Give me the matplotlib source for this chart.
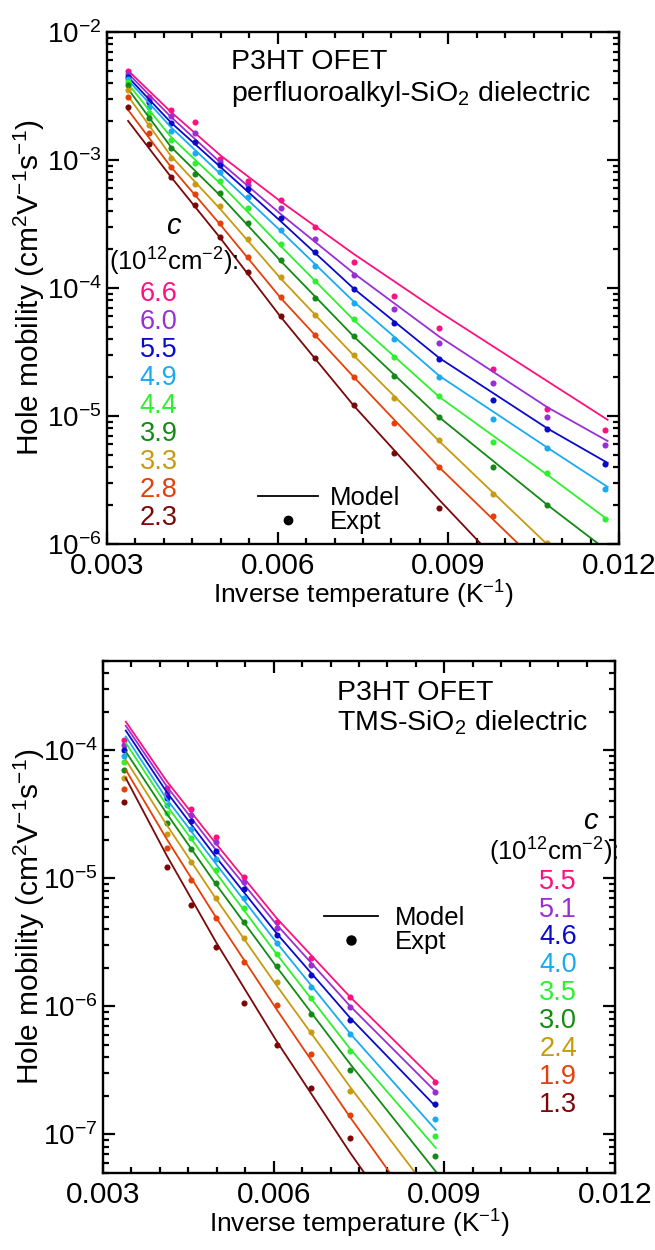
import matplotlib
matplotlib.use("Agg")
import matplotlib.pyplot as plt
from matplotlib.lines import Line2D
from matplotlib.ticker import MultipleLocator, LogLocator, NullFormatter, FixedLocator

plt.rcParams['font.family'] = ['Liberation Sans', 'DejaVu Sans']
plt.rcParams['mathtext.fontset'] = 'custom'
plt.rcParams['mathtext.rm'] = 'Liberation Sans'
plt.rcParams['mathtext.it'] = 'Liberation Sans:italic'
plt.rcParams['mathtext.default'] = 'regular'

colors = ['#FF0F80', '#9A2ED6', '#0A0ACD', '#1AAAF0', '#2EF02E',
          '#138A13', '#C89A10', '#E5400A', '#7A0808']

nan = float('nan')

# ---------------- top panel: perfluoroalkyl-SiO2 ----------------
top_conc = ['6.6', '6.0', '5.5', '4.9', '4.4', '3.9', '3.3', '2.8', '2.3']
top_x = [0.00337, 0.00373, 0.00412, 0.00454, 0.00499, 0.00548, 0.00605,
         0.00666, 0.00734, 0.00804, 0.00884, 0.00979, 0.01074, 0.01175]
top_66 = [4.95e-3, 3.13e-3, 2.46e-3, 1.97e-3, 1.01e-3, 6.85e-4, 4.84e-4, 2.98e-4, 1.59e-4, 8.71e-5, 4.84e-5, 2.33e-5, 1.13e-5, 7.78e-6]
top_60 = [4.70e-3, 2.94e-3, 2.22e-3, 1.62e-3, 9.64e-4, 6.38e-4, 4.23e-4, 2.40e-4, 1.26e-4, 6.85e-5, 3.70e-5, 1.80e-5, 9.89e-6, 5.93e-6]
top_55 = [4.48e-3, 2.82e-3, 1.94e-3, 1.37e-3, 9.14e-4, 5.90e-4, 3.51e-4, 1.90e-4, 9.91e-5, 5.30e-5, 2.77e-5, 1.33e-5, 7.87e-6, 4.22e-6]
top_49 = [4.26e-3, 2.61e-3, 1.69e-3, 1.13e-3, 8.13e-4, 5.12e-4, 2.84e-4, 1.49e-4, 7.64e-5, 3.97e-5, 2.02e-5, 9.42e-6, 5.60e-6, 2.70e-6]
top_44 = [4.07e-3, 2.34e-3, 1.43e-3, 9.42e-4, 6.85e-4, 4.20e-4, 2.22e-4, 1.14e-4, 5.74e-5, 2.90e-5, 1.44e-5, 6.30e-6, 3.56e-6, 1.56e-6]
top_39 = [3.85e-3, 2.12e-3, 1.23e-3, 7.78e-4, 5.56e-4, 3.24e-4, 1.66e-4, 8.40e-5, 4.22e-5, 2.05e-5, 9.89e-6, 4.02e-6, 2.02e-6, nan]
top_33 = [3.52e-3, 1.88e-3, 1.04e-3, 6.46e-4, 4.35e-4, 2.40e-4, 1.21e-4, 6.15e-5, 3.00e-5, 1.37e-5, 6.49e-6, 2.46e-6, 1.01e-6, nan]
top_28 = [3.09e-3, 1.62e-3, 8.87e-4, 5.42e-4, 3.24e-4, 1.74e-4, 8.47e-5, 4.29e-5, 2.03e-5, 8.76e-6, 3.97e-6, 1.64e-6, nan, nan]
top_23 = [2.58e-3, 1.33e-3, 7.36e-4, 4.45e-4, 2.50e-4, 1.34e-4, 6.04e-5, 2.85e-5, 1.21e-5, 5.11e-6, 1.90e-6, nan, nan, nan]

top_model_x = [0.00337, 0.00412, 0.00499, 0.00605, 0.00734, 0.00884, 0.01074, 0.0118]
top_model_66 = [5.00e-3, 2.38e-3, 1.09e-3, 4.75e-4, 1.84e-4, 6.52e-5, 1.87e-5, 9.33e-6]
top_model_60 = [4.74e-3, 2.18e-3, 9.59e-4, 3.79e-4, 1.30e-4, 4.17e-5, 1.17e-5, 6.37e-6]
top_model_55 = [4.45e-3, 1.97e-3, 8.85e-4, 3.33e-4, 9.86e-5, 2.84e-5, 8.00e-6, 4.30e-6]
top_model_49 = [4.22e-3, 1.81e-3, 7.80e-4, 2.80e-4, 7.80e-5, 2.06e-5, 5.66e-6, 2.79e-6]
top_model_44 = [3.93e-3, 1.52e-3, 6.55e-4, 2.13e-4, 5.60e-5, 1.41e-5, 3.47e-6, 1.55e-6]
top_model_39 = [3.59e-3, 1.27e-3, 5.27e-4, 1.63e-4, 4.17e-5, 9.77e-6, 2.02e-6, 8.83e-7]
top_model_33 = [3.16e-3, 1.08e-3, 4.14e-4, 1.19e-4, 2.96e-5, 6.35e-6, 9.91e-7, 3.73e-7]
top_model_28 = [2.46e-3, 8.87e-4, 3.13e-4, 8.38e-5, 2.01e-5, 3.97e-6, 6.05e-7, 2.22e-7]
top_model_23 = [2.02e-3, 7.41e-4, 2.46e-4, 5.97e-5, 1.20e-5, 2.21e-6, 2.83e-7, 9.44e-8]

top_pts = [top_66, top_60, top_55, top_49, top_44, top_39, top_33, top_28, top_23]
top_model = [top_model_66, top_model_60, top_model_55, top_model_49, top_model_44,
             top_model_39, top_model_33, top_model_28, top_model_23]

# ---------------- bottom panel: TMS-SiO2 ----------------
bot_conc = ['5.5', '5.1', '4.6', '4.0', '3.5', '3.0', '2.4', '1.9', '1.3']
bot_x = [0.00337, 0.00412, 0.00454, 0.00499, 0.00547, 0.00605, 0.00665, 0.00734, 0.00884]
bot_55 = [1.20e-4, 5.07e-5, 3.48e-5, 2.12e-5, 1.03e-5, 4.60e-6, 2.38e-6, 1.18e-6, 2.56e-7]
bot_51 = [1.11e-4, 4.64e-5, 3.14e-5, 1.92e-5, 9.35e-6, 4.13e-6, 2.09e-6, 9.98e-7, 2.15e-7]
bot_46 = [1.01e-4, 4.24e-5, 2.82e-5, 1.65e-5, 8.24e-6, 3.62e-6, 1.77e-6, 7.85e-7, 1.72e-7]
bot_40 = [9.12e-5, 3.74e-5, 2.45e-5, 1.42e-5, 7.02e-6, 3.12e-6, 1.43e-6, 6.08e-7, 1.32e-7]
bot_35 = [8.15e-5, 3.24e-5, 2.07e-5, 1.16e-5, 5.86e-6, 2.58e-6, 1.16e-6, 4.50e-7, 9.70e-8]
bot_30 = [7.05e-5, 2.73e-5, 1.71e-5, 9.29e-6, 4.60e-6, 2.07e-6, 8.75e-7, 3.20e-7, 6.81e-8]
bot_24 = [6.05e-5, 2.23e-5, 1.34e-5, 7.05e-6, 3.42e-6, 1.54e-6, 6.37e-7, 2.20e-7, nan]
bot_19 = [4.99e-5, 1.73e-5, 9.75e-6, 4.90e-6, 2.24e-6, 1.02e-6, 4.24e-7, 1.42e-7, nan]
bot_13 = [3.97e-5, 1.24e-5, 6.22e-6, 2.90e-6, 1.06e-6, 5.01e-7, 2.29e-7, 9.35e-8, nan]

bot_model_x = [0.00340, 0.00412, 0.00499, 0.00605, 0.00734, 0.00885]
bot_model_55 = [1.68e-4, 5.75e-5, 1.86e-5, 4.90e-6, 1.19e-6, 2.59e-7]
bot_model_51 = [1.56e-4, 5.25e-5, 1.66e-5, 4.37e-6, 1.01e-6, 2.15e-7]
bot_model_46 = [1.43e-4, 4.73e-5, 1.46e-5, 3.73e-6, 8.18e-7, 1.65e-7]
bot_model_40 = [1.285e-4, 4.17e-5, 1.29e-5, 3.16e-6, 6.17e-7, 1.086e-7]
bot_model_35 = [1.146e-4, 3.72e-5, 1.10e-5, 2.57e-6, 4.68e-7, 7.85e-8]
bot_model_30 = [9.79e-5, 3.21e-5, 8.95e-6, 2.04e-6, 3.57e-7, 5.13e-8]
bot_model_24 = [8.45e-5, 2.62e-5, 6.89e-6, 1.46e-6, 2.36e-7, 3.08e-8]
bot_model_19 = [7.05e-5, 2.03e-5, 4.93e-6, 9.51e-7, 1.37e-7, 1.58e-8]
bot_model_13 = [6.08e-5, 1.51e-5, 3.16e-6, 5.37e-7, 7.24e-8, 8.00e-9]

bot_pts = [bot_55, bot_51, bot_46, bot_40, bot_35, bot_30, bot_24, bot_19, bot_13]
bot_model = [bot_model_55, bot_model_51, bot_model_46, bot_model_40, bot_model_35,
             bot_model_30, bot_model_24, bot_model_19, bot_model_13]


def style_axes(ax, ylim, ylab_x):
    ax.set_yscale('log')
    ax.set_xlim(0.003, 0.012)
    ax.set_ylim(*ylim)
    ax.xaxis.set_major_locator(FixedLocator([0.003, 0.006, 0.009, 0.012]))
    ax.xaxis.set_major_formatter(plt.FuncFormatter(lambda v, p: f"{v:.3f}"))
    ax.xaxis.set_minor_locator(MultipleLocator(0.0005))
    ax.yaxis.set_major_locator(LogLocator(base=10, numticks=20))
    ax.yaxis.set_minor_locator(LogLocator(base=10, subs=range(2, 10), numticks=20))
    ax.yaxis.set_minor_formatter(NullFormatter())
    ax.tick_params(which='both', direction='in', top=True, right=True, width=1.6)
    ax.tick_params(which='major', length=8.5)
    ax.tick_params(which='minor', length=4.5)
    ax.tick_params(axis='x', labelsize=21.5, pad=6)
    ax.tick_params(axis='y', labelsize=20, pad=4)
    for s in ax.spines.values():
        s.set_linewidth(1.7)
    ax.set_xlabel('Inverse temperature (K$^{-1}$)', fontsize=19, labelpad=-1)
    ax.set_ylabel('Hole mobility (cm$^2$V$^{-1}$s$^{-1}$)', fontsize=21.5)
    ax.yaxis.set_label_coords(ylab_x, 0.5)


fig = plt.figure(figsize=(6.55, 12.5), dpi=100)
ax1 = fig.add_axes([0.1634, 0.5648, 0.7817, 0.4096])
ax2 = fig.add_axes([0.1573, 0.0616, 0.7817, 0.4096])

for ys, ym, col in zip(top_pts, top_model, colors):
    ax1.plot(top_model_x, ym, '-', color=col, lw=1.3)
    ax1.plot(top_x, ys, 'o', color=col, ms=4.4, mec='none')
style_axes(ax1, (1e-6, 1e-2), -0.118)

for ys, ym, col in zip(bot_pts, bot_model, colors):
    ax2.plot(bot_model_x, ym, '-', color=col, lw=1.3)
    ax2.plot(bot_x, ys, 'o', color=col, ms=4.4, mec='none')
style_axes(ax2, (5e-8, 5e-4), -0.110)

# annotations, top
ax1.text(0.243, 0.941, 'P3HT OFET', transform=ax1.transAxes, fontsize=20.5, va='center')
ax1.text(0.243, 0.879, 'perfluoroalkyl-SiO$_2$ dielectric', transform=ax1.transAxes,
         fontsize=20.5, va='center')
ax1.text(0.129, 0.622, 'c', transform=ax1.transAxes, fontsize=21, style='italic',
         ha='center', va='center')
ax1.text(0.003, 0.551, '(10$^{12}$cm$^{-2}$):', transform=ax1.transAxes, fontsize=18.5,
         va='center')
for i, (lab, col) in enumerate(zip(top_conc, colors)):
    ax1.text(0.064, 0.488 - i * 0.0547, lab, transform=ax1.transAxes, fontsize=19.5,
             color=col, va='center')

# annotations, bottom
ax2.text(0.4576, 0.9375, 'P3HT OFET', transform=ax2.transAxes, fontsize=20.5, va='center')
ax2.text(0.4576, 0.879, 'TMS-SiO$_2$ dielectric', transform=ax2.transAxes,
         fontsize=20.5, va='center')
ax2.text(0.951, 0.688, 'c', transform=ax2.transAxes, fontsize=21, style='italic',
         ha='center', va='center')
ax2.text(1.006, 0.628, '(10$^{12}$cm$^{-2}$):', transform=ax2.transAxes, fontsize=18.5,
         va='center', ha='right')
for i, (lab, col) in enumerate(zip(bot_conc, colors)):
    ax2.text(0.852, 0.569 - i * 0.0545, lab, transform=ax2.transAxes, fontsize=19.5,
             color=col, va='center')

h_top = [Line2D([], [], color='black', lw=1.3),
         Line2D([], [], color='black', marker='o', ls='none', ms=6)]
h_bot = [Line2D([], [], color='black', lw=1.3),
         Line2D([], [], color='black', marker='o', ls='none', ms=6.5)]
ax1.legend(h_top, ['Model', 'Expt'], loc='lower left', bbox_to_anchor=(0.295, 0.02),
           frameon=False, fontsize=18.5, handlelength=2.33, handletextpad=0.47,
           labelspacing=0.0, borderpad=0, borderaxespad=0)
ax2.legend(h_bot, ['Model', 'Expt'], loc='lower left', bbox_to_anchor=(0.432, 0.428),
           frameon=False, fontsize=18.5, handlelength=2.1, handletextpad=0.66,
           labelspacing=0.0, borderpad=0, borderaxespad=0)

fig.savefig('out.png', dpi=100)
